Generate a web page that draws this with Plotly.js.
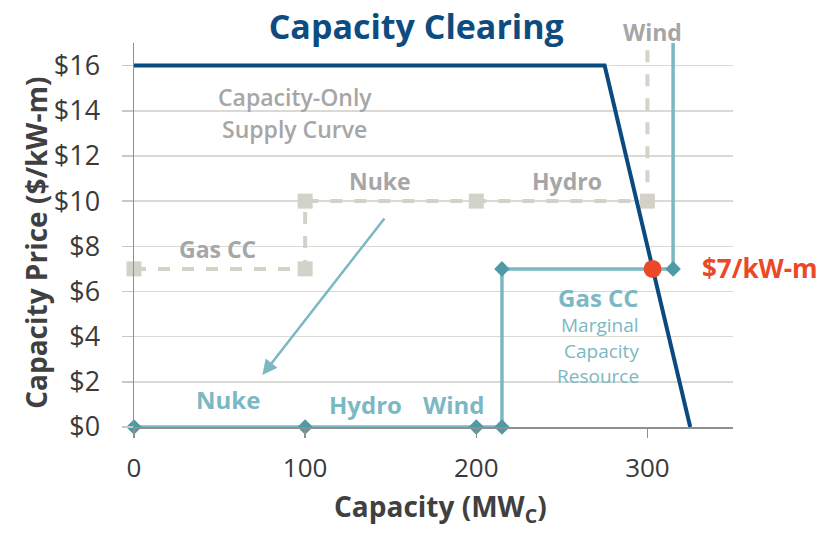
<!DOCTYPE html>
<html>
<head>
<meta charset="utf-8">
<script src="https://cdn.plot.ly/plotly-3.0.1.min.js"></script>
<style>html,body{margin:0;padding:0;background:#fff;}#chart{width:821px;height:534px;}</style>
</head>
<body>
<div id="chart"></div>
<script>
// Demand curve (dark blue)
const demandX = [0, 275, 325];
const demandY = [16, 16, 0];
// Capacity supply curve (teal)
const supplyX = [0, 100, 200, 215, 215, 315, 315];
const supplyY = [0, 0, 0, 0, 7, 7, 17];
const supplyMarkX = [0, 100, 200, 215, 215, 315];
const supplyMarkY = [0, 0, 0, 0, 7, 7];
// Capacity-only supply curve (gray dashed)
const grayX = [0, 100, 100, 200, 300, 300];
const grayY = [7, 7, 10, 10, 10, 17];
const grayMarkX = [0, 100, 100, 200, 300];
const grayMarkY = [7, 7, 10, 10, 10];
// Clearing point
const clearX = [303];
const clearY = [7];
// Ticks
const yTickVals = [0, 2, 4, 6, 8, 10, 12, 14, 16];
const yTickText = ["$0", "$2", "$4", "$6", "$8", "$10", "$12", "$14", "$16"];
const xTickVals = [0, 100, 200, 300];
const xTickText = ["0", "100", "200", "300"];

const FONT = "Open Sans, Noto Sans, sans-serif";
const TEAL = "#7bb8c3";
const TEALDARK = "#4e9ba5";
const GRAY = "#d2d2c9";
const GRAYTXT = "#a6a6a6";
const NAVY = "#0b4a7f";
const RED = "#ea4828";

const traces = [
  {x: grayX, y: grayY, mode: "lines", line: {color: GRAY, width: 4, dash: "dash"}, hoverinfo: "skip", cliponaxis: false},
  {x: grayMarkX, y: grayMarkY, mode: "markers", marker: {symbol: "square", size: 15, color: GRAY}, hoverinfo: "skip", cliponaxis: false},
  {x: supplyX, y: supplyY, mode: "lines", line: {color: TEAL, width: 3.5}, hoverinfo: "skip", cliponaxis: false},
  {x: supplyMarkX, y: supplyMarkY, mode: "markers", marker: {symbol: "diamond", size: 12, color: TEALDARK}, hoverinfo: "skip", cliponaxis: false},
  {x: demandX, y: demandY, mode: "lines", line: {color: NAVY, width: 4}, hoverinfo: "skip", cliponaxis: false},
  {x: clearX, y: clearY, mode: "markers", marker: {symbol: "circle", size: 18, color: RED}, hoverinfo: "skip", cliponaxis: false}
];

function txt(x, y, text, size, color, weight, xanchor) {
  return {x: x, y: y, xref: "x", yref: "y", text: text,
    showarrow: false, xanchor: xanchor || "center", yanchor: "middle",
    font: {family: FONT, size: size, color: color, weight: weight || 400}};
}

const annotations = [
  txt(94, 14.6, "Capacity-Only", 23, GRAYTXT, 600),
  txt(94, 13.2, "Supply Curve", 23, GRAYTXT, 600),
  txt(144, 10.9, "Nuke", 23, GRAYTXT, 700),
  txt(253, 10.9, "Hydro", 23, GRAYTXT, 700),
  txt(49, 7.9, "Gas CC", 23, GRAYTXT, 700),
  {x: 303, y: 1.0, xref: "x", yref: "paper", yanchor: "bottom", yshift: -7, text: "Wind", showarrow: false,
   font: {family: FONT, size: 23, color: GRAYTXT, weight: 700}},
  txt(55, 1.2, "Nuke", 24, TEAL, 700),
  txt(135, 1.0, "Hydro", 24, TEAL, 700),
  txt(187, 1.0, "Wind", 24, TEAL, 700),
  txt(296, 5.75, "Gas CC", 24, TEAL, 700, "right"),
  txt(296, 4.5, "Marginal", 19, TEAL, 400, "right"),
  txt(296, 3.37, "Capacity", 19, TEAL, 400, "right"),
  txt(296, 2.25, "Resource", 19, TEAL, 400, "right"),
  txt(331, 7.05, "$7/kW-m", 26, RED, 700, "left"),
  {x: -0.164, y: 0.479, xref: "paper", yref: "paper", xanchor: "center", yanchor: "middle", textangle: -90,
   text: "Capacity Price ($/kW-m)", showarrow: false,
   font: {family: FONT, size: 28, color: "#404040", weight: 700}},
  {x: 0.511, y: -0.272, xref: "paper", yref: "paper", xanchor: "center", yanchor: "bottom",
   text: "Capacity (MW<sub>C</sub>)", showarrow: false,
   font: {family: FONT, size: 28, color: "#404040", weight: 700}},
  {x: 75, y: 2.3, xref: "x", yref: "y", ax: 147, ay: 9.3, axref: "x", ayref: "y",
   showarrow: true, arrowhead: 2, arrowsize: 1.2, arrowwidth: 2.5, arrowcolor: TEAL, text: ""}
];

const layout = {
  width: 821, height: 534,
  margin: {l: 134, r: 88, t: 43, b: 107},
  paper_bgcolor: "#ffffff", plot_bgcolor: "#ffffff",
  showlegend: false,
  title: {text: "<b>Capacity Clearing</b>", x: 0.507, xanchor: "center", y: 0.95, yanchor: "middle",
          font: {family: FONT, size: 34, color: "#0d4c80"}},
  xaxis: {range: [0, 350], tickvals: xTickVals, ticktext: xTickText, showgrid: false, zeroline: false,
          showline: true, linecolor: "#8f8f8f", linewidth: 1.5, ticks: "outside", ticklen: 9, tickcolor: "#8f8f8f",
          tickwidth: 1.5, tickfont: {family: FONT, size: 26, color: "#3a3a3a"}, ticklabelstandoff: 8},
  yaxis: {range: [0, 17], tickvals: yTickVals, ticktext: yTickText, showgrid: true, gridcolor: "#dadad3", gridwidth: 1.5,
          zeroline: false, showline: true, linecolor: "#8f8f8f", linewidth: 1.5, ticks: "outside", ticklen: 11,
          tickcolor: "#c9c9c2", tickwidth: 1.5, tickfont: {family: FONT, size: 27, color: "#3a3a3a"}, ticklabelstandoff: 16},
  annotations: annotations
};

Plotly.newPlot("chart", traces, layout, {displayModeBar: false, staticPlot: true});
</script>
</body>
</html>
